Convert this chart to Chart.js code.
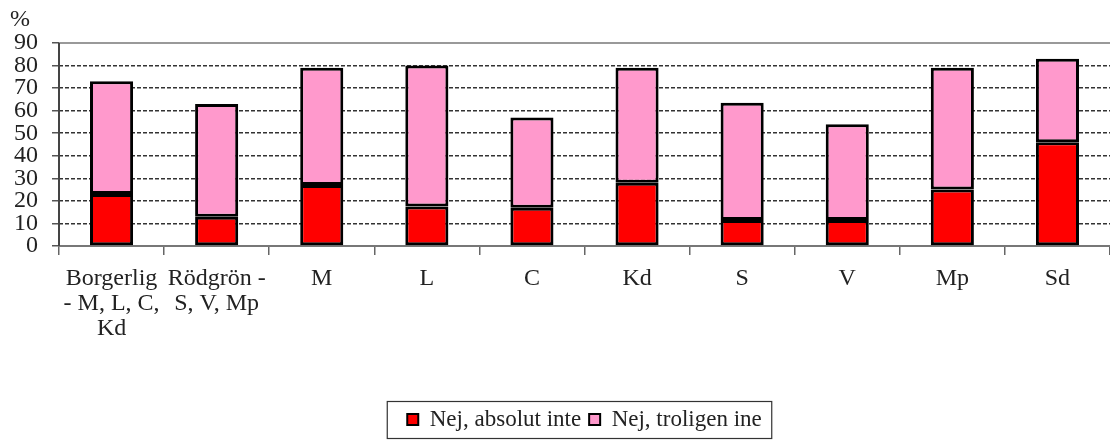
<!DOCTYPE html>
<html>
<head>
<meta charset="utf-8">
<script src="https://cdn.jsdelivr.net/npm/chart.js@4/dist/chart.umd.min.js"></script>
<style>
  html, body { margin: 0; padding: 0; background: #fff; }
  #wrap { width: 1110px; height: 441px; }
</style>
</head>
<body>
<div id="wrap"><canvas id="chart"></canvas></div>
<script>
// --- data ---
const categories = [
  ['Borgerlig', '- M, L, C,', 'Kd'],
  ['Rödgrön -', 'S, V, Mp'],
  'M', 'L', 'C', 'Kd', 'S', 'V', 'Mp', 'Sd'
];
const absolutInte = [23, 13, 27, 17.5, 17, 28, 11.5, 11.5, 25, 46];
const troligenInte = [50, 50, 52, 62.5, 40, 51, 52, 42.5, 54, 37];
const yTicks = [0, 10, 20, 30, 40, 50, 60, 70, 80, 90];

const serif = '"Liberation Serif", "Times New Roman", serif';

// extra drawing: "%" label, solid axis lines, top border, legend frame
const decor = {
  id: 'decor',
  afterDraw(chart) {
    const { ctx, chartArea: a } = chart;
    ctx.save();
    ctx.fillStyle = '#222';
    ctx.font = '24px ' + serif;
    ctx.textBaseline = 'alphabetic';
    ctx.fillText('%', 10, 26);

    ctx.lineWidth = 2;
    ctx.strokeStyle = '#999';
    ctx.beginPath();
    ctx.moveTo(a.left, a.top);
    ctx.lineTo(a.right, a.top);
    ctx.stroke();

    ctx.strokeStyle = '#444';
    ctx.beginPath();
    ctx.moveTo(a.left, a.top);
    ctx.lineTo(a.left, a.bottom);
    ctx.stroke();

    const boxes = chart.legend.legendHitBoxes;
    if (boxes && boxes.length) {
      const l = Math.min(...boxes.map(b => b.left)) - 20;
      const r = Math.max(...boxes.map(b => b.left + b.width)) + 10;
      const mid = boxes[0].top + boxes[0].height / 2;
      ctx.lineWidth = 1.2;
      ctx.strokeStyle = '#333';
      ctx.strokeRect(l, mid - 18, r - l, 37);
    }
    ctx.restore();
  }
};

new Chart(document.getElementById('chart'), {
  type: 'bar',
  data: {
    labels: categories,
    datasets: [
      {
        label: 'Nej, absolut inte',
        data: absolutInte,
        backgroundColor: '#ff0000',
        borderColor: '#000',
        borderWidth: 3,
        borderSkipped: false
      },
      {
        label: 'Nej, troligen ine',
        data: troligenInte,
        backgroundColor: '#ff99cc',
        borderColor: '#000',
        borderWidth: 3,
        borderSkipped: false
      }
    ]
  },
  options: {
    responsive: true,
    maintainAspectRatio: false,
    animation: false,
    layout: { padding: { top: 43, right: 0, left: 0, bottom: 0 } },
    datasets: { bar: { categoryPercentage: 0.41, barPercentage: 1 } },
    plugins: {
      tooltip: { enabled: false },
      legend: {
        position: 'bottom',
        fullSize: false,
        labels: {
          color: '#222',
          font: { family: serif, size: 23 },
          boxWidth: 11,
          boxHeight: 11,
          padding: 8,
          generateLabels: chart => chart.data.datasets.map((ds, i) => ({
            text: ds.label,
            fillStyle: ds.backgroundColor,
            strokeStyle: '#000',
            lineWidth: 2,
            datasetIndex: i,
            fontColor: '#222'
          }))
        }
      }
    },
    scales: {
      x: {
        stacked: true,
        afterFit: s => { s.height = 154; },
        grid: {
          offset: true,
          drawOnChartArea: false,
          drawTicks: true,
          tickLength: 9,
          color: '#666',
          lineWidth: 1.5
        },
        border: { display: true, color: '#777', width: 2 },
        ticks: {
          autoSkip: false,
          maxRotation: 0,
          padding: 11,
          color: '#222',
          font: { family: serif, size: 24, lineHeight: 1.05 }
        }
      },
      y: {
        stacked: true,
        min: 0,
        max: 90,
        afterFit: s => { s.width = 59; },
        afterBuildTicks: s => { s.ticks = yTicks.map(v => ({ value: v })); },
        grid: {
          color: c => (c.tick && (c.tick.value === 0 || c.tick.value === 90)) ? 'rgba(0,0,0,0)' : '#333',
          lineWidth: 1.5,
          drawTicks: true,
          tickLength: 7,
          tickColor: '#555',
          tickBorderDash: []
        },
        border: { display: false, dash: [4, 2] },
        ticks: {
          autoSkip: false,
          padding: 14,
          color: '#222',
          font: { family: serif, size: 24 }
        }
      }
    }
  },
  plugins: [decor]
});
</script>
</body>
</html>
